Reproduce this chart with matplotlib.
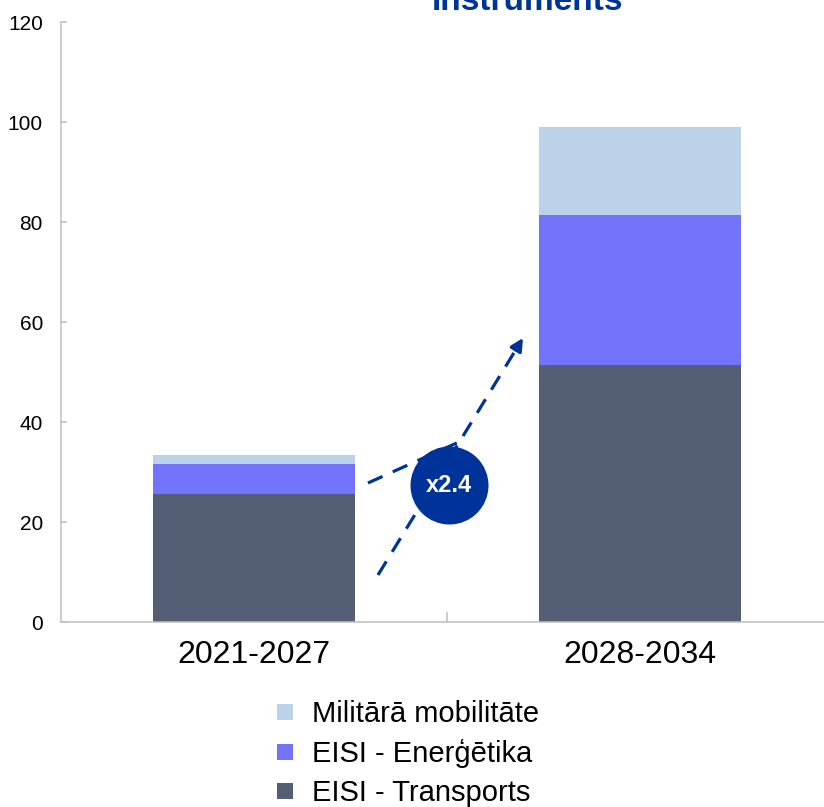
import matplotlib
matplotlib.use("Agg")
import matplotlib.pyplot as plt
import numpy as np
from matplotlib.lines import Line2D

plt.rcParams['font.family'] = ['Liberation Sans', 'DejaVu Sans']

# ---- data ----
periods = ["2021-2027", "2028-2034"]
transport = [25.7, 51.4]
energy = [5.9, 30.0]
military = [1.8, 17.6]
series_labels = ["EISI - Transports", "EISI - Enerģētika", "Militārā mobilitāte"]
colors = ["#545F75", "#7373FC", "#BCD2E8"]
ratio_label = "x2.4"
title_text = "Instruments"

W, H = 824, 807
fig = plt.figure(figsize=(W / 100, H / 100), dpi=100)
ax = fig.add_axes([61 / W, 185 / H, 772 / W, 600 / H])

x = np.arange(len(periods))
bw = 0.523
bottom = np.zeros(len(periods))
for vals, lab, col in zip([transport, energy, military], series_labels, colors):
    ax.bar(x, vals, bw, bottom=bottom, color=col, label=lab, zorder=2)
    bottom += np.array(vals)

ax.set_xlim(-0.5, 1.5)
ax.set_ylim(0, 120)
ax.set_yticks(np.arange(0, 121, 20))
ax.set_xticks(x)
ax.set_xticklabels(periods, fontsize=23)
ax.set_xticks([0.5], minor=True)
ax.tick_params(axis='x', which='major', length=0, pad=13)
ax.tick_params(axis='x', which='minor', direction='in', length=7, width=1.1, color='#BFBFBF')
ax.tick_params(axis='y', direction='in', length=4.3, width=1.1, color='#BFBFBF', labelsize=15, pad=13)
for s in ['top', 'right']:
    ax.spines[s].set_visible(False)
for s in ['left', 'bottom']:
    ax.spines[s].set_color('#BFBFBF')
    ax.spines[s].set_linewidth(1.1)

# ---- growth annotation ----
navy = "#003399"
line1_start, line1_end = (0.2953, 27.8), (0.531, 36.0)
line2_start, arrow_tip = (0.3212, 9.4), (0.6969, 56.8)
circle_center = (0.5052, 27.4)
dash = (0, (5, 3.5))

ax.plot([line1_start[0], line1_end[0]], [line1_start[1], line1_end[1]],
        color=navy, lw=2.3, ls=dash, zorder=3)
frac = 0.95
pre_tip = (line2_start[0] + frac * (arrow_tip[0] - line2_start[0]),
           line2_start[1] + frac * (arrow_tip[1] - line2_start[1]))
ax.plot([line2_start[0], pre_tip[0]], [line2_start[1], pre_tip[1]],
        color=navy, lw=2.3, ls=dash, zorder=3)
ax.annotate("", xy=arrow_tip, xytext=pre_tip,
            arrowprops=dict(arrowstyle="-|>,head_length=0.75,head_width=0.38",
                            color=navy, lw=2.3, shrinkA=0, shrinkB=0), zorder=3)
ax.scatter([circle_center[0]], [circle_center[1]], s=3154, color=navy, zorder=4, linewidths=0)
ax.text(circle_center[0], circle_center[1], ratio_label, color='white', fontsize=17,
        fontweight='bold', ha='center', va='center', zorder=5)

# ---- title (cropped at top, as in the source) ----
fig.text(528 / W, 1 - 10 / H, title_text, color=navy, fontsize=24, fontweight='bold',
         ha='center', va='baseline')

# ---- legend ----
leg_handles = [Line2D([], [], marker='s', ls='none', markersize=11, color=c, markeredgewidth=0)
               for c in colors[::-1]]
fig.legend(leg_handles, series_labels[::-1], loc='upper left',
           bbox_to_anchor=(270 / W, 1 - 700 / H), frameon=False, fontsize=21,
           handlelength=1.0, handletextpad=0.45, labelspacing=0.38, borderpad=0,
           borderaxespad=0)

fig.savefig("out.png", dpi=100)
